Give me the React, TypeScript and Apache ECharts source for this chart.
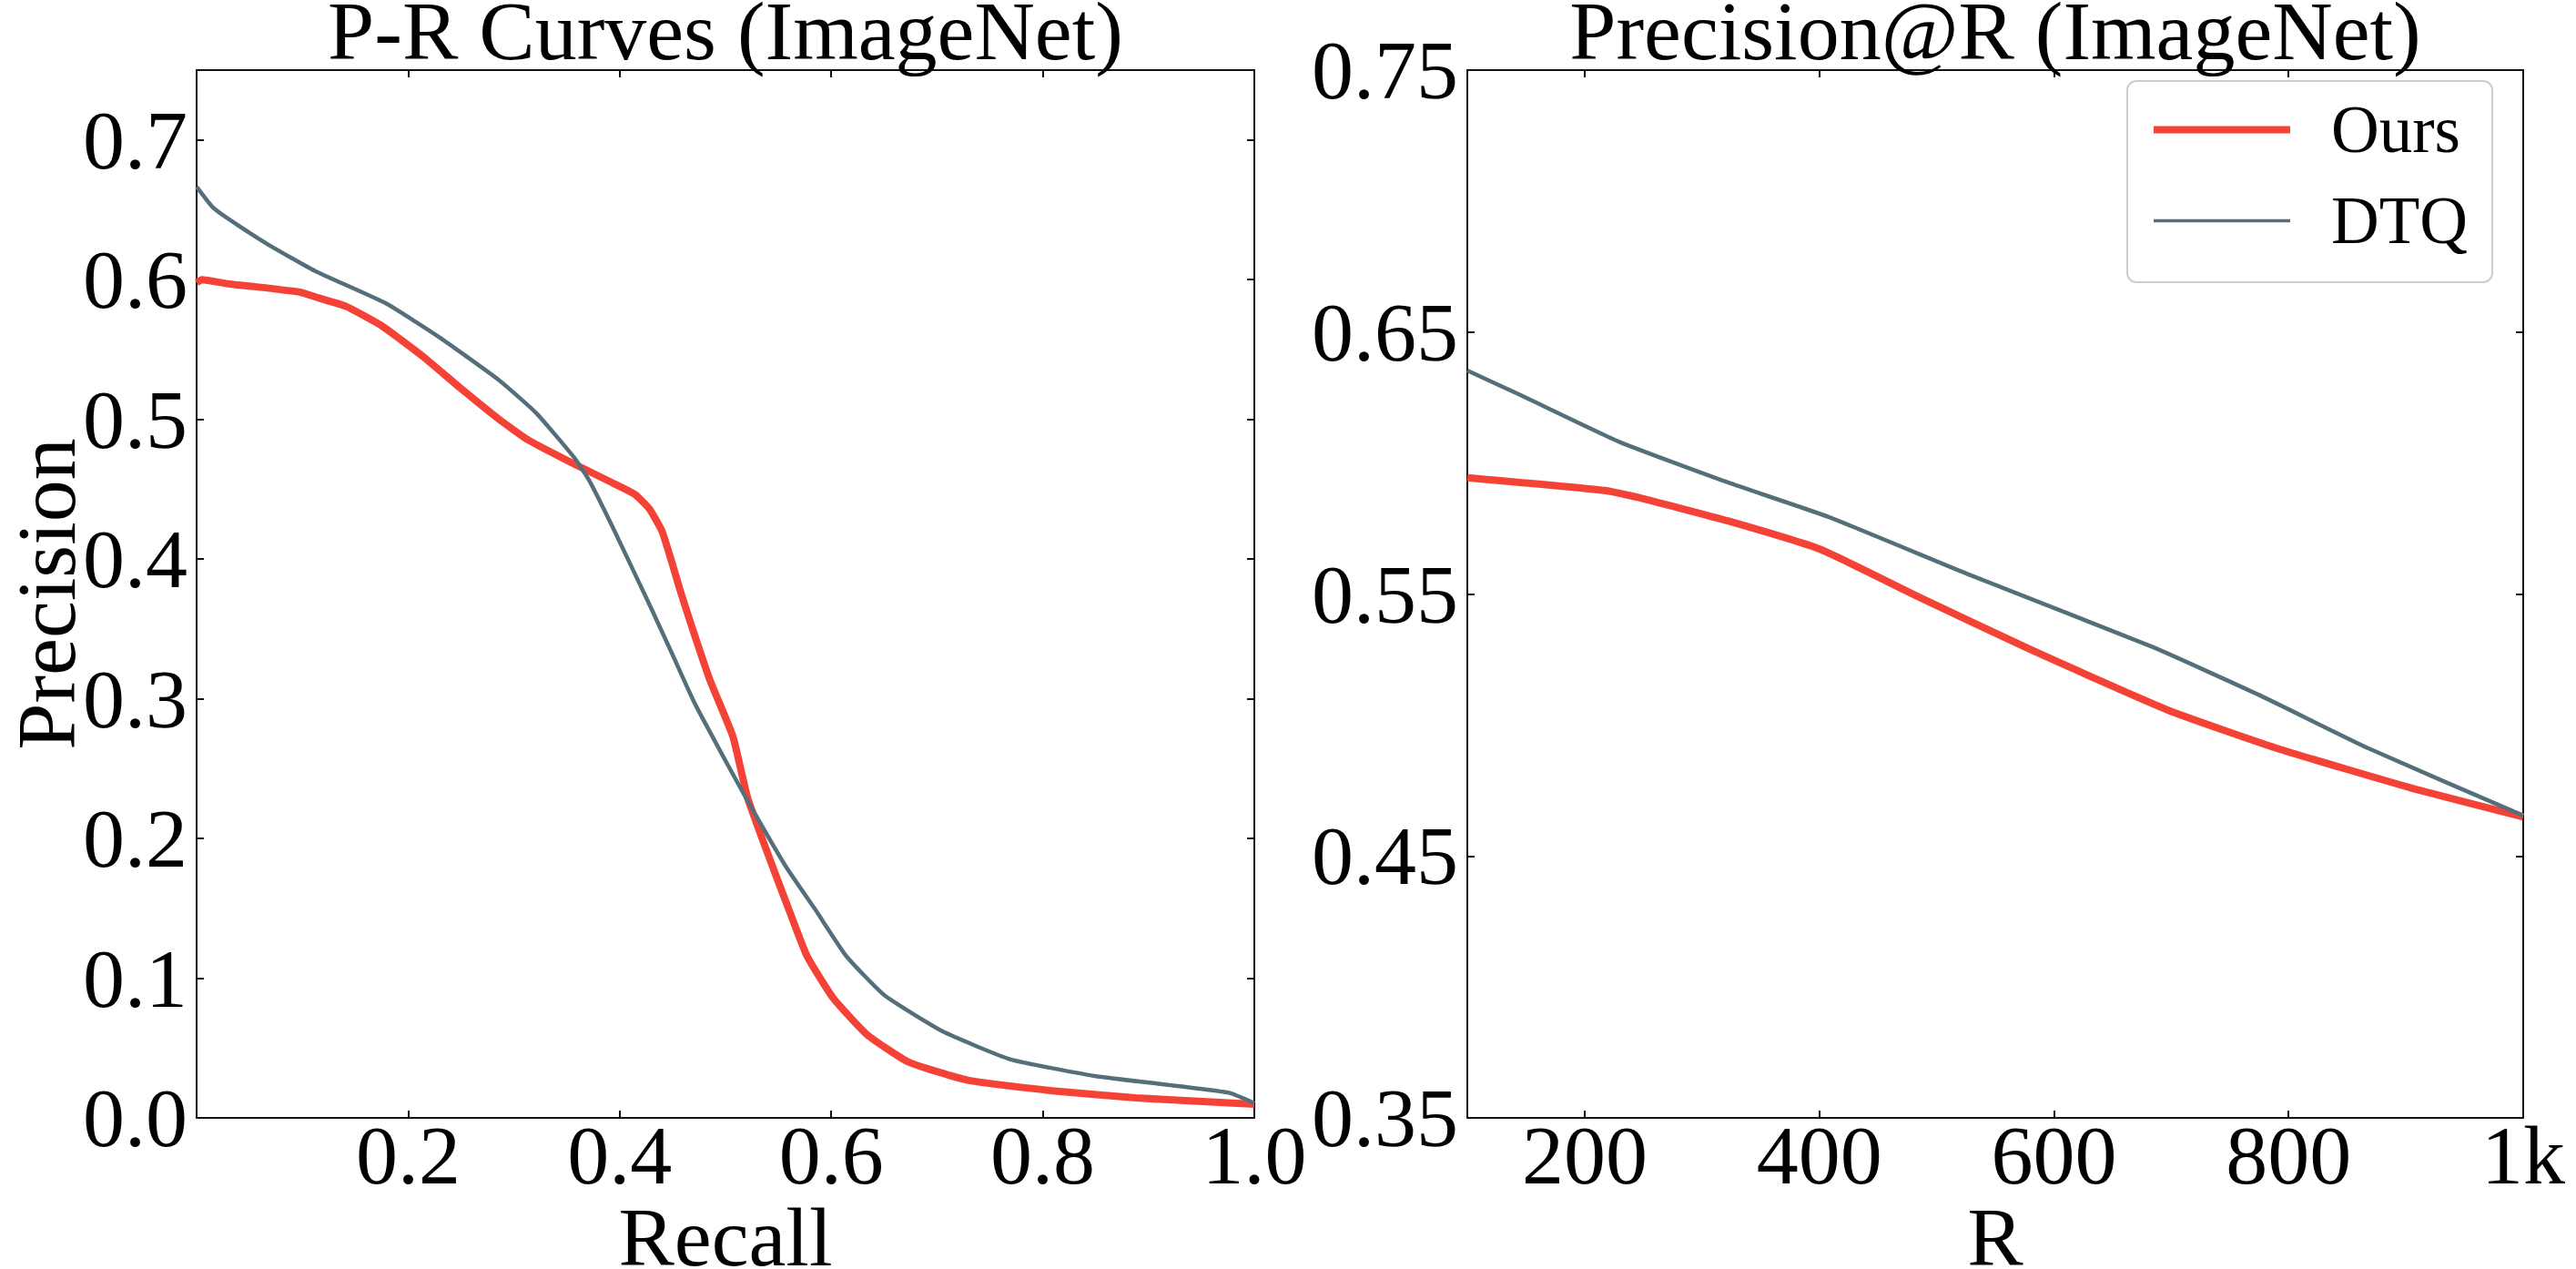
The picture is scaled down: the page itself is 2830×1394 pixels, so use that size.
import { useEffect, useRef } from 'react';
import * as echarts from 'echarts';

const FONT = "'Liberation Serif', 'Times New Roman', serif";
const RED = '#f44336';
const GREY = '#546e7a';

// P-R curves on ImageNet, [recall, precision]
const prOurs: [number, number][] = [
  [0.0, 0.598], [0.005, 0.6], [0.03, 0.597], [0.055, 0.595], [0.098, 0.591],
  [0.115, 0.587], [0.141, 0.581], [0.175, 0.567], [0.214, 0.545], [0.25, 0.522],
  [0.286, 0.5], [0.314, 0.485], [0.357, 0.468], [0.392, 0.455], [0.414, 0.4465],
  [0.428, 0.436], [0.44, 0.42], [0.45, 0.396], [0.457, 0.378], [0.468, 0.352],
  [0.485, 0.314], [0.507, 0.273], [0.521, 0.229], [0.543, 0.183], [0.56, 0.149],
  [0.577, 0.116], [0.602, 0.0856], [0.634, 0.0595], [0.673, 0.04], [0.729, 0.027],
  [0.809, 0.0194], [0.888, 0.0143], [1.0, 0.0098],
];
const prDTQ: [number, number][] = [
  [0.0, 0.6665], [0.015, 0.652], [0.031, 0.643], [0.069, 0.6245], [0.1125, 0.606],
  [0.179, 0.583], [0.229, 0.559], [0.286, 0.528], [0.321, 0.5046], [0.357, 0.4726],
  [0.371, 0.4565], [0.396, 0.4187], [0.429, 0.366], [0.45, 0.3315], [0.471, 0.2966],
  [0.5, 0.2557], [0.521, 0.2268], [0.557, 0.18], [0.585, 0.149], [0.614, 0.116],
  [0.65, 0.088], [0.705, 0.062], [0.769, 0.042], [0.849, 0.03], [0.928, 0.0228],
  [0.976, 0.018], [1.0, 0.0106],
];

// Precision@R on ImageNet, [R, precision]
const patrOurs: [number, number][] = [
  [100, 0.5944], [217, 0.5895], [250, 0.5864], [322, 0.5779], [401, 0.567],
  [487, 0.5484], [579, 0.529], [697, 0.5057], [790, 0.4911], [908, 0.4755],
  [1000, 0.4649],
];
const patrDTQ: [number, number][] = [
  [100, 0.6353], [145, 0.626], [230, 0.608], [322, 0.5926], [408, 0.5794],
  [526, 0.5577], [684, 0.5298], [776, 0.5112], [868, 0.4911], [1000, 0.4654],
];

// Tick positions
const recallTicks = [0.2, 0.4, 0.6, 0.8, 1.0];
const precisionTicks = [0, 0.1, 0.2, 0.3, 0.4, 0.5, 0.6, 0.7];
const rTicks = [200, 400, 600, 800, 1000];
const patrTicks = [0.35, 0.45, 0.55, 0.65, 0.75];

const labelText = { fontFamily: FONT, fontSize: 92, color: '#000' };
const frameLine = { show: true, onZero: false, lineStyle: { color: '#111', width: 2 } };

function tickStyle(values: number[]) {
  return { show: true, inside: true, length: 8, customValues: values, lineStyle: { color: '#111', width: 2 } };
}

function xAxes(grid: number, min: number, max: number, ticks: number[], fmt: (v: number) => string, name: string) {
  return [
    {
      type: 'value', gridIndex: grid, position: 'bottom', min, max,
      axisLine: frameLine, axisTick: tickStyle(ticks), splitLine: { show: false },
      axisLabel: { ...labelText, margin: -5, customValues: ticks, formatter: fmt },
      name, nameLocation: 'middle', nameGap: 101, nameMoveOverlap: false,
      nameTextStyle: { ...labelText, lineHeight: 60 },
    },
    {
      type: 'value', gridIndex: grid, position: 'top', min, max,
      axisLine: frameLine, axisTick: tickStyle(ticks), splitLine: { show: false },
      axisLabel: { show: false },
    },
  ];
}

function yAxes(grid: number, min: number, max: number, ticks: number[], fmt: (v: number) => string, name?: string) {
  return [
    {
      type: 'value', gridIndex: grid, position: 'left', min, max,
      axisLine: frameLine, axisTick: tickStyle(ticks), splitLine: { show: false },
      axisLabel: { ...labelText, margin: 10, customValues: ticks, formatter: fmt },
      ...(name
        ? {
            name, nameLocation: 'middle', nameGap: 145, nameMoveOverlap: false,
            nameTextStyle: { ...labelText, lineHeight: 40 },
          }
        : {}),
    },
    {
      type: 'value', gridIndex: grid, position: 'right', min, max,
      axisLine: frameLine, axisTick: tickStyle(ticks), splitLine: { show: false },
      axisLabel: { show: false },
    },
  ];
}

export default function App() {
  const ref = useRef<HTMLDivElement>(null);

  useEffect(() => {
    if (!ref.current) return;
    const chart = echarts.init(ref.current, undefined, { renderer: 'svg' });
    const titleStyle = { ...labelText, fontWeight: 'normal' as const, lineHeight: 66 };

    chart.setOption({
      animation: false,
      backgroundColor: '#fff',
      title: [
        { text: 'P-R Curves (ImageNet)', left: 797, top: 1, textAlign: 'center', padding: 0, textStyle: titleStyle },
        { text: 'Precision@R (ImageNet)', left: 2192, top: 1, textAlign: 'center', padding: 0, textStyle: titleStyle },
      ],
      grid: [
        { left: 216, top: 77, width: 1162, height: 1151, outerBoundsMode: 'none', containLabel: false },
        { left: 1612, top: 77, width: 1160, height: 1151, outerBoundsMode: 'none', containLabel: false },
      ],
      xAxis: [
        ...xAxes(0, 0, 1, recallTicks, (v: number) => v.toFixed(1), 'Recall'),
        ...xAxes(1, 100, 1000, rTicks, (v: number) => (v >= 1000 ? '1k' : String(Math.round(v))), 'R'),
      ],
      yAxis: [
        ...yAxes(0, 0, 0.75, precisionTicks, (v: number) => v.toFixed(1), 'Precision'),
        ...yAxes(1, 0.35, 0.75, patrTicks, (v: number) => v.toFixed(2)),
      ],
      legend: {
        data: [
          { name: 'Ours', lineStyle: { width: 8 } },
          { name: 'DTQ', lineStyle: { width: 3.5 } },
        ],
        orient: 'vertical',
        left: 2337,
        top: 89,
        itemWidth: 150,
        itemHeight: 14,
        itemGap: 27,
        padding: [17, 27, 31, 25],
        itemStyle: { opacity: 0 },
        textStyle: { fontFamily: FONT, fontSize: 73, color: '#000', padding: [0, 0, 0, 40] },
        borderColor: '#cccccc',
        borderWidth: 2,
        borderRadius: 10,
        backgroundColor: 'rgba(255,255,255,0.8)',
        selectedMode: false,
      },
      series: [
        { name: 'Ours', type: 'line', xAxisIndex: 0, yAxisIndex: 0, data: prOurs, symbol: 'none', smooth: 0.15, lineStyle: { color: RED, width: 8 }, itemStyle: { color: RED } },
        { name: 'DTQ', type: 'line', xAxisIndex: 0, yAxisIndex: 0, data: prDTQ, symbol: 'none', smooth: 0.15, lineStyle: { color: GREY, width: 4.5 }, itemStyle: { color: GREY } },
        { name: 'Ours', type: 'line', xAxisIndex: 2, yAxisIndex: 2, data: patrOurs, symbol: 'none', smooth: 0.15, lineStyle: { color: RED, width: 8 }, itemStyle: { color: RED } },
        { name: 'DTQ', type: 'line', xAxisIndex: 2, yAxisIndex: 2, data: patrDTQ, symbol: 'none', smooth: 0.15, lineStyle: { color: GREY, width: 4.5 }, itemStyle: { color: GREY } },
      ],
    });

    return () => chart.dispose();
  }, []);

  return (
    <div
      ref={ref}
      style={{ position: 'fixed', left: 0, top: 0, width: 2830, height: 1394, background: '#fff' }}
    />
  );
}
